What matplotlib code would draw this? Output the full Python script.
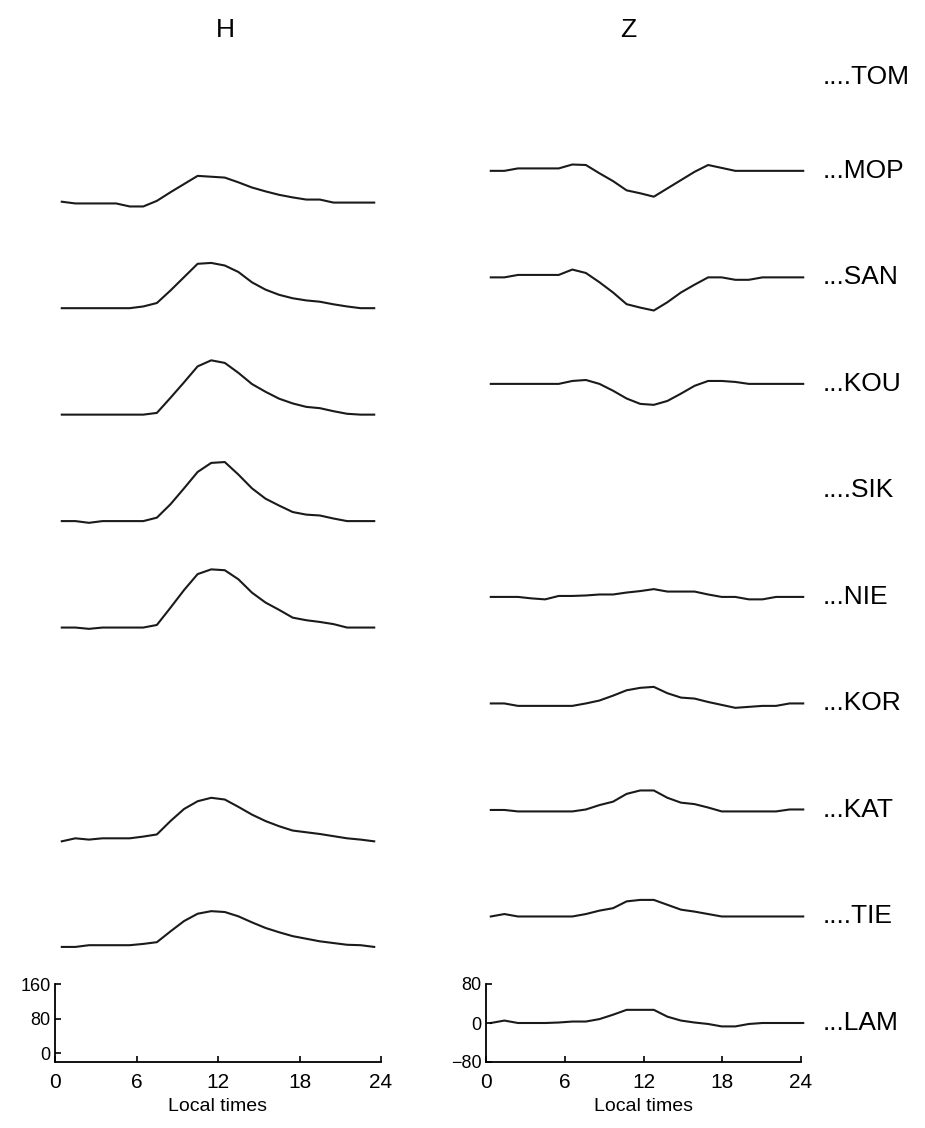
import numpy as np
import matplotlib
matplotlib.use("Agg")
import matplotlib.pyplot as plt
from matplotlib.transforms import blended_transform_factory

plt.rcParams["font.family"] = ["Liberation Sans", "DejaVu Sans"]

# hourly means, centred on the half hour
hours = np.arange(24) + 0.5

# stations from bottom row to top row
stations = ["LAM", "TIE", "KAT", "KOR", "NIE", "SIK", "KOU", "SAN", "MOP", "TOM"]
station_labels = ["...LAM", "....TIE", "...KAT", "...KOR", "...NIE",
                  "....SIK", "...KOU", "...SAN", "...MOP", "....TOM"]

# H component, departure from night level (nT)
h_mop = [0, -4, -4, -4, -4, -11, -11, 2, 22, 41, 60, 58, 56, 45, 33, 24, 16, 10, 5, 5, -2, -2, -2, -2]
h_san = [0, 0, 0, 0, 0, 0, 4, 12, 41, 72, 103, 105, 99, 84, 60, 43, 31, 23, 18, 15, 9, 4, 0, 0]
h_kou = [0, 0, 0, 0, 0, 0, 0, 4, 39, 75, 112, 126, 120, 97, 71, 53, 37, 26, 18, 15, 8, 2, 0, 0]
h_sik = [0, 0, -4, 0, 0, 0, 0, 8, 39, 76, 114, 135, 137, 108, 76, 52, 36, 21, 15, 13, 6, 0, 0, 0]
h_nie = [0, 0, -3, 0, 0, 0, 0, 6, 46, 87, 124, 135, 133, 112, 81, 58, 41, 23, 17, 13, 8, 0, 0, 0]
h_kat = [-2, 5, 2, 5, 5, 5, 9, 14, 45, 73, 91, 99, 95, 78, 60, 45, 33, 23, 19, 15, 10, 5, 2, -2]
h_tie = [0, 0, 4, 4, 4, 4, 7, 11, 36, 60, 77, 83, 81, 71, 57, 44, 34, 25, 19, 13, 9, 5, 4, 0]

# Z component, departure from night level (nT)
z_mop = [0, 0, 5, 5, 5, 5, 13, 12, -5, -21, -40, -46, -53, -36, -19, -2, 12, 6, 0, 0, 0, 0, 0, 0]
z_san = [0, 0, 5, 5, 5, 5, 16, 9, -10, -31, -55, -62, -68, -51, -31, -15, 0, 0, -5, -5, 0, 0, 0, 0]
z_kou = [0, 0, 0, 0, 0, 0, 6, 8, 0, -14, -30, -41, -43, -35, -20, -4, 6, 6, 4, 0, 0, 0, 0, 0]
z_nie = [0, 0, 0, -3, -5, 2, 2, 3, 5, 5, 9, 12, 16, 11, 11, 11, 5, 0, 0, -5, -5, 0, 0, 0]
z_kor = [0, 0, -5, -5, -5, -5, -5, 0, 6, 16, 27, 32, 34, 21, 12, 10, 3, -3, -9, -7, -5, -5, 0, 0]
z_kat = [0, 0, -3, -3, -3, -3, -3, 1, 10, 17, 33, 40, 40, 25, 15, 12, 5, -3, -3, -3, -3, -3, 1, 1]
z_tie = [0, 5, 0, 0, 0, 0, 0, 5, 12, 17, 31, 34, 34, 24, 14, 10, 5, 0, 0, 0, 0, 0, 0, 0]
z_lam = [0, 5, 0, 0, 0, 1, 3, 3, 8, 17, 27, 27, 27, 13, 5, 1, -2, -7, -7, -2, 0, 0, 0, 0]

h_series = {"MOP": h_mop, "SAN": h_san, "KOU": h_kou, "SIK": h_sik,
            "NIE": h_nie, "KAT": h_kat, "TIE": h_tie}
z_series = {"MOP": z_mop, "SAN": z_san, "KOU": z_kou, "NIE": z_nie,
            "KOR": z_kor, "KAT": z_kat, "TIE": z_tie, "LAM": z_lam}

H_STEP = 247.0   # vertical offset between stations, H panel
Z_STEP = 218.5   # vertical offset between stations, Z panel
W, HGT = 925, 1128

fig = plt.figure(figsize=(W / 100, HGT / 100), dpi=100)


def fig_rect(x0, y_top, x1, y_bot):
    return [x0 / W, 1 - y_bot / HGT, (x1 - x0) / W, (y_bot - y_top) / HGT]


def style_scale(ax, yticks):
    for side in ("top", "right"):
        ax.spines[side].set_visible(False)
    for side in ("left", "bottom"):
        ax.spines[side].set_linewidth(1.3)
    ax.set_xticks([0, 6, 12, 18, 24])
    ax.set_yticks(yticks)
    ax.tick_params(direction="in", length=4, width=1.2)
    ax.tick_params(axis="x", labelsize=15, pad=8)
    ax.tick_params(axis="y", labelsize=13, pad=3)
    ax.set_xlabel("Local times", fontsize=14, labelpad=4)
    ax.patch.set_visible(False)


# H panel: one tall axes, scale drawn only on the bottom row
ax_h = fig.add_axes(fig_rect(55, 62, 381, 1062))
ax_h.set_xlim(0, 24)
ax_h.set_ylim(-20, -20 + 1000 / 0.431)
for i, st in enumerate(stations):
    if st in h_series:
        ax_h.plot(hours, np.asarray(h_series[st]) + i * H_STEP, color="#1a1a1a", lw=1.5)
style_scale(ax_h, [0, 80, 160])
ax_h.spines["left"].set_bounds(-20, 160)

# Z panel: traces in their own axes, scale bar below
ax_z = fig.add_axes(fig_rect(484, 62, 810, 1062))
ax_z.set_xlim(0, 24)
ax_z.set_ylim(-80, -80 + 1000 / 0.4875)
ax_z.axis("off")
for i, st in enumerate(stations):
    if st in z_series:
        ax_z.plot(hours, np.asarray(z_series[st]) + i * Z_STEP, color="#1a1a1a", lw=1.5)

ax_zs = fig.add_axes(fig_rect(486, 984, 801, 1062))
ax_zs.set_xlim(0, 24)
ax_zs.set_ylim(-80, 80)
style_scale(ax_zs, [-80, 0, 80])

# station names on the right
trans = blended_transform_factory(ax_z.transAxes, ax_z.transData)
for i, lab in enumerate(station_labels):
    dy = -13 if stations[i] == "TOM" else 0
    ax_z.annotate(lab, xy=(1.04, i * Z_STEP), xycoords=trans,
                  xytext=(0, dy), textcoords="offset pixels",
                  ha="left", va="center", fontsize=19, annotation_clip=False)

fig.text(225 / W, 1 - 30 / HGT, "H", ha="center", va="center", fontsize=19)
fig.text(628 / W, 1 - 30 / HGT, "Z", ha="center", va="center", fontsize=19)

fig.savefig("out.png", dpi=100)
